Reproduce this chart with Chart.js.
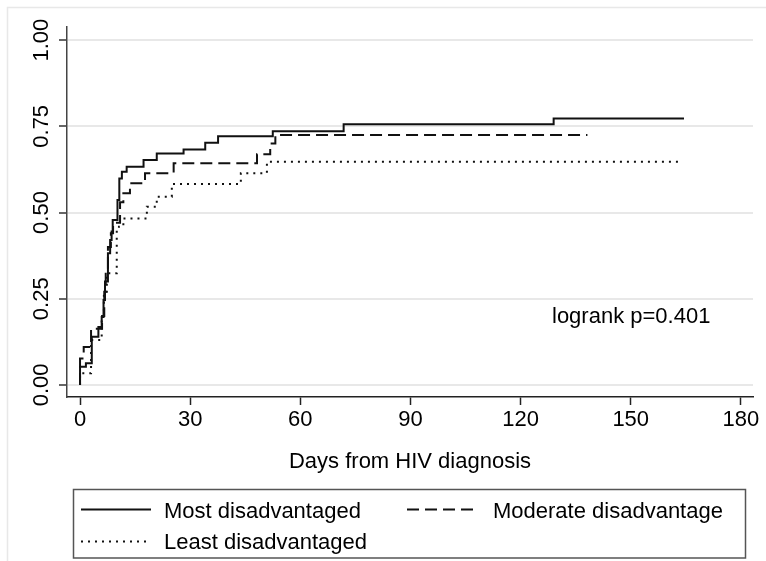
<!DOCTYPE html>
<html><head><meta charset="utf-8">
<script src="https://cdn.jsdelivr.net/npm/chart.js@4/dist/chart.umd.min.js"></script>
<style>html,body{margin:0;padding:0;background:#fff}#wrap{width:766px;height:561px}</style>
</head><body><div id="wrap"><canvas id="c" width="766" height="561"></canvas></div>
<script>
// ---- data ----
const xTicks = [0, 30, 60, 90, 120, 150, 180];
const yTicks = [0, 0.25, 0.5, 0.75, 1];
const yTickLabels = ['0.00', '0.25', '0.50', '0.75', '1.00'];
const xTitle = 'Days from HIV diagnosis';
const annotation = 'logrank p=0.401';
const seriesNames = ['Most disadvantaged', 'Moderate disadvantage', 'Least disadvantaged'];

const mostDays = [0, 0, 1.6, 3.2, 5.0, 5.9, 6.4, 6.8, 7.6, 8.2, 8.6, 8.9, 10.2, 10.7, 11.4, 12.7, 17.3, 20.9, 28.2, 34.1, 37.6, 52.5, 71.8, 129, 164.5];
const mostVals = [0, 0.053, 0.063, 0.14, 0.168, 0.197, 0.246, 0.30, 0.382, 0.42, 0.445, 0.478, 0.536, 0.599, 0.618, 0.633, 0.652, 0.671, 0.683, 0.702, 0.721, 0.736, 0.756, 0.773, 0.773];

const modDays = [0, 0, 1.0, 3.0, 6.0, 6.6, 7.0, 7.6, 8.4, 9.0, 10.9, 11.8, 13.6, 17.7, 25.5, 48.2, 51.8, 53.2, 138.2];
const modVals = [0, 0.077, 0.11, 0.163, 0.20, 0.27, 0.33, 0.40, 0.44, 0.47, 0.53, 0.556, 0.585, 0.614, 0.643, 0.669, 0.70, 0.725, 0.725];

const leastDays = [0, 0, 3.0, 5.9, 6.5, 7.3, 10.0, 10.6, 11.8, 18.2, 20.9, 25.0, 43.8, 50.9, 163.2];
const leastVals = [0, 0.034, 0.13, 0.20, 0.265, 0.324, 0.449, 0.459, 0.483, 0.517, 0.546, 0.583, 0.614, 0.647, 0.647];

// ---- build ----
const FONT = '"Liberation Sans", Arial, sans-serif';
const pts = (d, v) => d.map((x, i) => ({x: x, y: v[i]}));
const styles = [
  {dash: [], color: '#111'},
  {dash: [12, 6], color: '#111'},
  {dash: [2, 5], color: '#111'}
];
const seriesData = [pts(mostDays, mostVals), pts(modDays, modVals), pts(leastDays, leastVals)];

const extras = {
  id: 'extras',
  afterDraw(chart) {
    const ctx = chart.ctx;
    ctx.save();
    // outer frame
    ctx.strokeStyle = '#e8e8e8';
    ctx.lineWidth = 1.5;
    ctx.strokeRect(7.5, 7.5, 820, 620);
    // x title
    ctx.fillStyle = '#000';
    ctx.font = '22px ' + FONT;
    ctx.textAlign = 'center';
    ctx.textBaseline = 'alphabetic';
    const ca = chart.chartArea;
    ctx.fillText(xTitle, (ca.left + ca.right) / 2, 468);
    // annotation
    ctx.textAlign = 'left';
    ctx.fillText(annotation, 552, 323);
    // legend
    ctx.strokeStyle = '#555';
    ctx.lineWidth = 1.5;
    ctx.strokeRect(73.5, 489.5, 672, 68.5);
    const entries = [
      {x1: 81, x2: 151, y: 509.5, tx: 164, ty: 517.5},
      {x1: 407, x2: 479, y: 509.5, tx: 493, ty: 517.5},
      {x1: 81, x2: 151, y: 541.5, tx: 164, ty: 548.5}
    ];
    entries.forEach((e, i) => {
      ctx.beginPath();
      ctx.setLineDash(styles[i].dash);
      ctx.strokeStyle = styles[i].color;
      ctx.lineWidth = 2;
      ctx.moveTo(e.x1, e.y);
      ctx.lineTo(e.x2, e.y);
      ctx.stroke();
      ctx.setLineDash([]);
      ctx.fillStyle = '#000';
      ctx.fillText(seriesNames[i], e.tx, e.ty);
    });
    ctx.restore();
  }
};

new Chart(document.getElementById('c'), {
  type: 'line',
  data: {
    datasets: seriesData.map((d, i) => ({
      label: seriesNames[i],
      data: d,
      stepped: true,
      borderColor: styles[i].color,
      borderDash: styles[i].dash,
      borderWidth: 2,
      pointRadius: 0,
      fill: false,
      tension: 0
    }))
  },
  options: {
    responsive: false,
    animation: false,
    devicePixelRatio: 1,
    layout: {padding: {left: 0, top: 27, right: 13, bottom: 0}},
    plugins: {legend: {display: false}, tooltip: {enabled: false}},
    scales: {
      x: {
        type: 'linear',
        min: -3.55,
        max: 183.3,
        afterBuildTicks: s => { s.ticks = xTicks.map(v => ({value: v})); },
        afterFit: s => { s.height = 164; },
        ticks: {font: {family: FONT, size: 22}, color: '#000', padding: 2, maxRotation: 0, autoSkip: false,
                callback: v => String(v)},
        grid: {drawOnChartArea: false, drawTicks: true, tickLength: 8, tickColor: '#222', tickWidth: 1.5},
        border: {color: '#222', width: 1.5}
      },
      y: {
        type: 'linear',
        min: -0.035,
        max: 1.038,
        afterBuildTicks: s => { s.ticks = yTicks.map(v => ({value: v})); },
        afterFit: s => { s.width = 67; },
        ticks: {font: {family: FONT, size: 22}, color: '#000', padding: -4, minRotation: 90, maxRotation: 90,
                crossAlign: 'center', autoSkip: false,
                callback: (v, i) => yTickLabels[yTicks.indexOf(v)]},
        grid: {color: '#e8e8e8', lineWidth: 2, drawTicks: true, tickLength: 8, tickColor: '#333', tickWidth: 1.5},
        border: {color: '#444', width: 1.5}
      }
    }
  },
  plugins: [extras]
});
</script>
</body></html>
